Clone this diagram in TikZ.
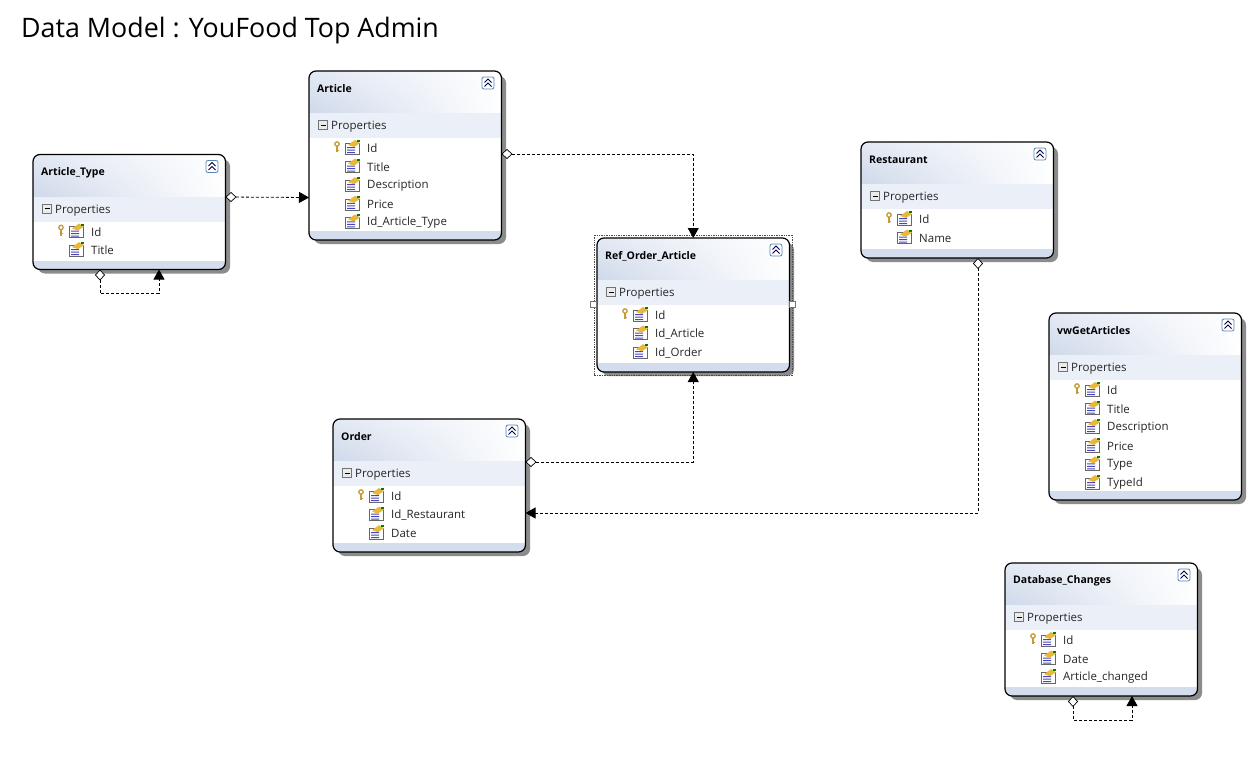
\documentclass[tikz,border=0pt]{standalone}
\usepackage{fontspec}
\setmainfont{Open Sans}
\usetikzlibrary{arrows.meta, positioning, calc, shadings}

\definecolor{headdark}{HTML}{CFD9EA}
\definecolor{headmid}{HTML}{E3E9F4}
\definecolor{bandcol}{HTML}{EBEFF8}
\definecolor{footcol}{HTML}{D4DDEE}
\definecolor{btnblue}{HTML}{5A86B0}
\definecolor{keygold}{HTML}{E8B83C}

\tikzset{
	entitybox/.style={draw=black, line width=1.2pt, rounded corners=7pt, anchor=north west, minimum width=192.5pt, inner sep=0pt, outer sep=0pt},
	entitytitle/.style={font=\fontsize{10.5}{12}\selectfont\bfseries, anchor=west, inner sep=0pt},
	proptext/.style={font=\fontsize{11.5}{13}\selectfont, anchor=west, inner sep=0pt, text=black!85},
	fklink/.style={densely dashed, line width=0.8pt, {Diamond[fill=white, length=11pt, width=10pt, line width=0.7pt]}-{Triangle[fill=black, length=10pt, width=11pt]}},
	pics/propicon/.style={code={
		\fill[white] (-7,-4) rectangle (7,7);
		\draw[black!60, line width=0.6pt] (-7,-4) rectangle (7,7);
		\fill[blue!45!gray] (-5,0) rectangle (3,1) (-5,2.5) rectangle (3,3.5) (-5,5) rectangle (3,6);
		\fill[keygold] (-4,-2) -- (3,-7) -- (8,-4) -- (2,0) -- cycle;
		\fill[green!50!black] (5,-7) rectangle (8,-5);
	}},
	pics/keyicon/.style={code={
		\draw[keygold!85!black, line width=1.3pt] (0,-3) circle (2.2);
		\draw[keygold!85!black, line width=1.5pt] (0,-1) -- (0,5);
		\draw[keygold!85!black, line width=1pt] (0,3) -- (2,3);
	}},
	pics/collapsebtn/.style={code={
		\draw[btnblue, fill=white, rounded corners=2pt, line width=0.8pt] (-6,-6) rectangle (6,6);
		\draw[black!70!blue, line width=1pt] (-3.5,-0.5) -- (0,-4) -- (3.5,-0.5) (-3.5,3.5) -- (0,0) -- (3.5,3.5);
	}},
	pics/minusbox/.style={code={
		\draw[black!55, fill=black!8, line width=0.7pt] (-4.5,-4.5) rectangle (4.5,4.5);
		\draw[black, line width=1pt] (-2.5,0) -- (2.5,0);
	}},
}

% name, x, y, height, title, rows (first one carries the key)
\newcommand{\entity}[6]{
	\fill[black!45, rounded corners=7pt] (#2+5,#3+5) rectangle (#2+197,#3+#4+4);
	\begin{scope}
		\clip[rounded corners=7pt] (#2,#3) rectangle (#2+192.5,#3+#4);
		\fill[white] (#2,#3) rectangle (#2+192.5,#3+#4);
		\shade[upper left=headmid, lower left=headdark, upper right=white, lower right=white] (#2,#3) rectangle (#2+192.5,#3+42);
		\fill[bandcol] (#2,#3+42) rectangle (#2+192.5,#3+67);
		\fill[footcol] (#2,#3+#4-9) rectangle (#2+192.5,#3+#4);
	\end{scope}
	\node[entitybox, minimum height=#4*1pt] (#1) at (#2,#3) {};
	\node[entitytitle] (#1-title) at (#2+8,#3+18) {#5};
	\pic at (#2+179,#3+12) {collapsebtn};
	\pic at (#2+14,#3+54) {minusbox};
	\node[proptext] (#1-prop) at (#2+22,#3+56) {Properties};
	\pic at (#2+28,#3+76) {keyicon};
	\foreach \rowtxt [count=\i from 0] in {#6} {
		\pic at (#2+43,#3+76+18.6*\i) {propicon};
		\node[proptext] (#1-row\i) at (#2+58,#3+77.5+18.6*\i) {\rowtxt};
	}
}

\begin{document}
\begin{tikzpicture}[x=1pt, y=-1pt, >=Stealth]
	\useasboundingbox (0,0) rectangle (1258,768);
	\fill[white] (0,0) rectangle (1258,768);

	\node[font=\fontsize{26.8}{32}\selectfont, anchor=base west, inner sep=0pt] (heading) at (21,38) {Data Model : YouFood Top Admin};

	\entity{articletype}{33}{154.5}{115}{Article\_Type}{Id,Title}
	\entity{article}{309}{71}{169}{Article}{Id,Title,Description,Price,Id\_Article\_Type}
	\entity{restaurant}{861}{142}{116}{Restaurant}{Id,Name}
	\entity{reforder}{597}{238}{134}{Ref\_Order\_Article}{Id,Id\_Article,Id\_Order}
	\entity{vwarticles}{1049}{313}{187}{vwGetArticles}{Id,Title,Description,Price,Type,TypeId}
	\entity{order}{333}{419}{133}{Order}{Id,Id\_Restaurant,Date}
	\entity{dbchanges}{1005}{563}{133}{Database\_Changes}{Id,Date,Article\_changed}

	% selection frame
	\draw[black!70, densely dotted, line width=0.7pt] ($(reforder.north west)+(-3,-3)$) rectangle ($(reforder.south east)+(3,3)$);
	\node[draw=black!55, fill=white, inner sep=0pt, minimum size=6pt, line width=0.7pt] (handleleft) at ($(reforder.north west)+(-4,66)$) {};
	\node[draw=black!55, fill=white, inner sep=0pt, minimum size=6pt, line width=0.7pt] (handleright) at ($(reforder.north east)+(3,66)$) {};

	\coordinate (typeout) at ($(articletype.north east)+(0,42.5)$);
	\coordinate (articlein) at ($(article.north west)+(0,126.5)$);
	\coordinate (articleout) at ($(article.north east)+(0,83)$);
	\coordinate (orderout) at ($(order.north east)+(0,43)$);
	\coordinate (orderin) at ($(order.north east)+(0,94)$);
	\coordinate (restout) at ($(restaurant.south west)+(117,0)$);
	\coordinate (typeselfa) at ($(articletype.south west)+(67,0)$);
	\coordinate (typeselfb) at ($(articletype.south west)+(126,0)$);
	\coordinate (dbselfa) at ($(dbchanges.south west)+(68,0)$);
	\coordinate (dbselfb) at ($(dbchanges.south west)+(127,0)$);

	\draw[fklink] (typeout) -- (articlein);
	\draw[fklink] (articleout) -| (reforder.north);
	\draw[fklink] (orderout) -| (reforder.south);
	\draw[fklink] (restout) |- (orderin);
	\draw[fklink] (typeselfa) -- ++(0,24) -| (typeselfb);
	\draw[fklink] (dbselfa) -- ++(0,24) -| (dbselfb);
\end{tikzpicture}
\end{document}
